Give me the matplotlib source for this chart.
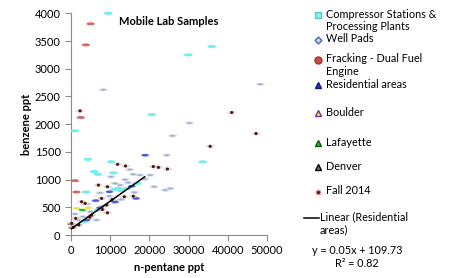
import numpy as np
import matplotlib
matplotlib.use("Agg")
import matplotlib.pyplot as plt
from matplotlib.lines import Line2D

plt.rcParams['font.family'] = ['Lato', 'DejaVu Sans']

# ── Data ──────────────────────────────────────────────────────────────────────
compressor_x = [9500, 29900, 35900, 20600, 1000, 33600, 4300, 10300, 5900, 6900,
                10800, 3900, 12100, 14200, 11200, 12900, 7000, 3100, 16900]
compressor_y = [4000, 3250, 3400, 2170, 1880, 1320, 1365, 1320, 1145, 1095,
                1120, 775, 840, 840, 825, 800, 450, 240, 930]

wellpad_x = [8200, 48300, 30200, 25900, 24400, 21200, 24000, 25300, 20200, 15900,
             17600, 11200, 12500, 14600, 11200, 6500, 1900, 9800, 13800, 8200,
             5000, 3000, 16200, 18800, 10200, 7400, 12800, 4200, 1000, 15000]
wellpad_y = [2620, 2720, 2020, 1790, 1440, 870, 810, 840, 1080, 1095,
             1080, 930, 900, 945, 585, 270, 270, 700, 1000, 520,
             420, 330, 770, 1010, 1050, 760, 640, 560, 380, 1180]

fracking_x = [5000, 3800, 2500, 1000, 1400]
fracking_y = [3810, 3430, 2120, 980, 775]

residential_x = [18900, 16600, 11200, 6300, 4000, 7400, 15500, 9800]
residential_y = [1440, 660, 600, 620, 270, 490, 880, 780]

boulder_x = [1450, 4400]
boulder_y = [480, 490]

lafayette_x = [2900]
lafayette_y = [450]

denver_x = [0, 300]
denver_y = [200, 130]

fall2014_x = [41000, 47200, 35500, 22300, 21000, 24600, 11900, 13900, 7000, 9300,
              13600, 15900, 2700, 3600, 7800, 9100, 9300, 5300, 170, 600,
              2300, 8000, 4800, 1200, 2000, 10500]
fall2014_y = [2210, 1830, 1600, 1220, 1235, 1190, 1275, 1245, 900, 870,
              690, 700, 600, 570, 660, 540, 400, 360, 210, 140,
              2240, 460, 320, 300, 180, 640]

# trend line for residential areas: y = 0.05x + 109.73
fit_slope, fit_intercept = 0.05, 109.73
fit_x = np.array([0, 18800])

# ── Figure ────────────────────────────────────────────────────────────────────
fig = plt.figure(figsize=(4.65, 2.78), dpi=100)
ax = fig.add_axes([71/465, 43/278, 196/465, 221.7/278])

t = np.linspace(0, 2*np.pi, 40)
ellipse = np.column_stack([np.cos(t), 0.36*np.sin(t)])

common = dict(marker=ellipse, edgecolors='none', clip_on=False)
ax.scatter(wellpad_x, wellpad_y, s=40, color='#d3dbea', zorder=2, **common)
ax.scatter(wellpad_x, wellpad_y, s=10, color='#9aaacb', zorder=2, **common)
ax.scatter(compressor_x, compressor_y, s=40, color='#72efeb', zorder=3, **common)
ax.scatter(fracking_x, fracking_y, s=36, color='#d46a66', zorder=3, **common)
ax.scatter(residential_x, residential_y, s=30, color='#4a5fe0', zorder=3, **common)
ax.scatter(boulder_x, boulder_y, s=28, color='#e6e23a', zorder=3, **common)
ax.scatter(lafayette_x, lafayette_y, s=28, color='#2fb52f', zorder=3, **common)
ax.scatter(denver_x, denver_y, s=28, color='#333333', zorder=3, **common)
ax.scatter(fall2014_x, fall2014_y, s=38, color='#e3cccc', zorder=4, alpha=0.85,
           **common)
ax.scatter(fall2014_x, fall2014_y, s=5, marker='o', color='#4a1515',
           edgecolors='none', zorder=4, clip_on=False)

ax.plot(fit_x, fit_slope*fit_x + fit_intercept, color='black', lw=1.1, zorder=5)

ax.set_xlim(0, 50000)
ax.set_ylim(0, 4000)
ax.set_xticks(range(0, 50001, 10000))
ax.set_yticks(range(0, 4001, 500))
for side in ['top', 'right']:
    ax.spines[side].set_visible(False)
for side in ['left', 'bottom']:
    ax.spines[side].set_color('#8c8c8c')
ax.tick_params(colors='#8c8c8c', labelcolor='black', labelsize=8, length=4,
               width=0.8, direction='out')

ax.set_xlabel('n-pentane ppt', fontsize=8, fontweight='bold', labelpad=4)
ax.set_ylabel('benzene ppt', fontsize=8, fontweight='bold', labelpad=2)
ax.text(0.5, 0.965, 'Mobile Lab Samples', transform=ax.transAxes, ha='center',
        va='center', fontsize=8, fontweight='bold')

# ── Legend (manual, Excel-like spacing) ───────────────────────────────────────
W, H = 465.0, 278.0
legend_items = [
    ('Compressor Stations &\nProcessing Plants', 15, dict(marker='s', mfc='#7ff2ee', mec='#5cc8c4', ms=5)),
    ('Well Pads', 40, dict(marker='D', mfc='#c9d6ee', mec='#4a6aa8', ms=3.5)),
    ('Fracking - Dual Fuel\nEngine', 60, dict(marker='o', mfc='#d04a46', mec='#a03030', ms=5)),
    ('Residential areas', 85, dict(marker='^', mfc='#2233cc', mec='#101a80', ms=5)),
    ('Boulder', 113, dict(marker='^', mfc='#f0ee30', mec='#7030a0', ms=5)),
    ('Lafayette', 143, dict(marker='^', mfc='#22bb22', mec='#115511', ms=5)),
    ('Denver', 167, dict(marker='^', mfc='#777777', mec='#000000', ms=5)),
    ('Fall 2014', 192, dict(marker='o', mfc='#5a1a1a', mec='#e0b0b0', ms=3.5, mew=1)),
]
for label, ypx, style in legend_items:
    fig.add_artist(Line2D([318/W], [1 - ypx/H], transform=fig.transFigure,
                          linestyle='none', **style))
    fig.text(326/W, 1 - (ypx - 6.5)/H, label, fontsize=7.8, va='top', ha='left',
             linespacing=1.15)

fig.add_artist(Line2D([304/W, 319/W], [1 - 218/H, 1 - 218/H],
                      transform=fig.transFigure, color='black', lw=1.1))
fig.text(320/W, 1 - (218 - 6.5)/H, 'Linear (Residential\nareas)', fontsize=7.8,
         va='top', ha='left', linespacing=1.15)

fig.text(357/W, 1 - (252 - 6.5)/H,
         f'y = {fit_slope:.2f}x + {fit_intercept:.2f}\nR² = 0.82',
         fontsize=7.8, va='top', ha='center', linespacing=1.15)

fig.savefig('out.png', dpi=100)
